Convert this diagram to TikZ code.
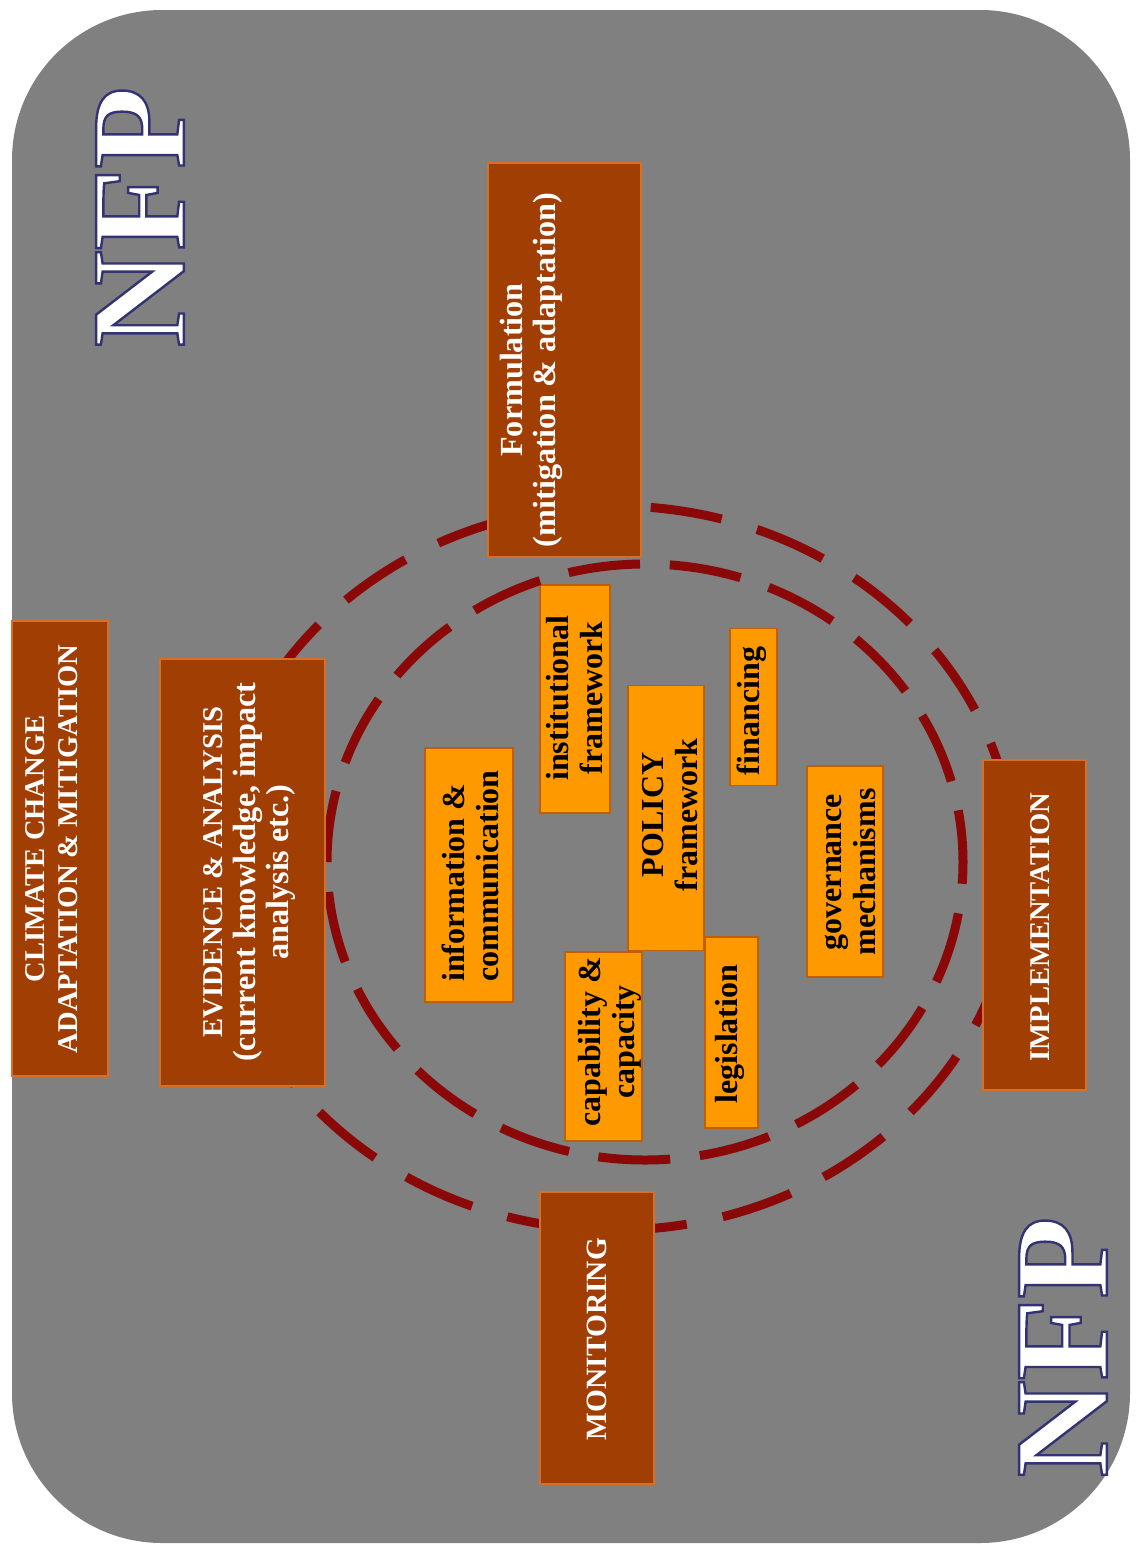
\documentclass[tikz,border=0pt]{standalone}
\usepackage{fontspec}
\newfontfamily\tnr{Liberation Serif}
\definecolor{bg}{RGB}{128,128,128}
\definecolor{brownfill}{RGB}{160,62,4}
\definecolor{brownedge}{RGB}{214,112,40}
\definecolor{orangefill}{RGB}{255,153,0}
\definecolor{orangeedge}{RGB}{190,95,10}
\definecolor{dashred}{RGB}{139,8,8}
\newcommand{\capsize}{\fontsize{14.3}{16.5}\selectfont}
\begin{document}
\begin{tikzpicture}[x=0.5pt,y=-0.5pt,
  brownbox/.style={draw=brownedge, line width=1pt, fill=brownfill, inner sep=0pt, outer sep=0pt},
  orangebox/.style={draw=orangeedge, line width=0.8pt, fill=orangefill, inner sep=0pt, outer sep=0pt},
  browntext/.style={rotate=90, text=white, font=\tnr\bfseries\fontsize{16.1}{16.5}\selectfont, align=center, inner sep=0pt},
  capstext/.style={browntext, font=\tnr\bfseries\capsize},
  orangetext/.style={rotate=90, text=black, font=\tnr\bfseries\fontsize{16}{17}\selectfont, align=center, inner sep=0pt},
  nfptext/.style={rotate=90, text=white, font=\tnr\bfseries\fontsize{67}{67}\selectfont, inner sep=0pt},
  ring/.style={draw=dashred, line width=4.5pt}
]
\useasboundingbox (0,0) rectangle (1137,1547);
\fill[white] (0,0) rectangle (1137,1547);
\fill[bg, rounded corners=75pt] (12,10) rectangle (1130,1543);

% orange boxes
\node[orangebox, minimum width=38pt, minimum height=132.5pt] (policy) at (666,818) {};
\node[orangebox, minimum width=44pt, minimum height=127pt] (info) at (469,875) {};
\node[orangebox, minimum width=35pt, minimum height=114pt] (inst) at (575,699) {};
\node[orangebox, minimum width=23.5pt, minimum height=78.5pt] (fin) at (753.5,707) {};
\node[orangebox, minimum width=38.5pt, minimum height=94.5pt] (cap) at (603.5,1046.5) {};
\node[orangebox, minimum width=26.5pt, minimum height=95.5pt] (leg) at (731.5,1032.5) {};
\node[orangebox, minimum width=38pt, minimum height=105.5pt] (gov) at (845,871.5) {};

% dashed rings
\draw[ring, dash pattern=on 36pt off 18.4pt, dash phase=26.4pt] (615,868) ellipse [x radius=200pt, y radius=181pt];
\draw[ring, dash pattern=on 36pt off 14.9pt, dash phase=10pt] (645,862) ellipse [x radius=159pt, y radius=149pt];

% brown boxes
\node[brownbox, minimum width=48pt, minimum height=227.5pt] (climate) at (60,848) {};
\node[brownbox, minimum width=82.5pt, minimum height=213.5pt] (evidence) at (242.5,872) {};
\node[brownbox, minimum width=76.5pt, minimum height=197pt] (form) at (564.5,360) {};
\node[brownbox, minimum width=51.5pt, minimum height=165pt] (impl) at (1034.5,925) {};
\node[brownbox, minimum width=57pt, minimum height=146pt] (mon) at (597,1338) {};

% brown texts
\node[capstext] (climateT) at (52,849) {CLIMATE CHANGE\\ADAPTATION \& MITIGATION};
\node[browntext] (evidenceT) at (249,872) {{\capsize EVIDENCE \& ANALYSIS}\\(current knowledge, impact\\analysis etc.)};
\node[browntext] (formT) at (531,370) {Formulation\\(mitigation \& adaptation)};
\node[capstext] (implT) at (1040,927) {IMPLEMENTATION};
\node[capstext, font=\tnr\bfseries\fontsize{14.7}{16.5}\selectfont] (monT) at (597,1339) {MONITORING};

% orange texts
\node[orangetext, align=left] (infoT) at (470,876) {information \&\\communication};
\node[orangetext] (instT) at (575,698) {institutional\\framework};
\node[orangetext] (policyT) at (670,815) {POLICY\\framework};
\node[orangetext] (finT) at (752,711) {financing};
\node[orangetext] (capT) at (610,1042) {capability \&\\capacity};
\node[orangetext] (legT) at (730,1034) {legislation};
\node[orangetext] (govT) at (850,872) {governance\\mechanisms};

% NFP titles
\node[nfptext] (nfpTop) at (140,217) {\special{pdf:literal direct 0.2 0.2 0.45 RG 1.2 w 2 Tr}NFP\special{pdf:literal direct 0 Tr}};
\node[nfptext] (nfpBottom) at (1063,1347) {\special{pdf:literal direct 0.2 0.2 0.45 RG 1.2 w 2 Tr}NFP\special{pdf:literal direct 0 Tr}};
\end{tikzpicture}
\end{document}
